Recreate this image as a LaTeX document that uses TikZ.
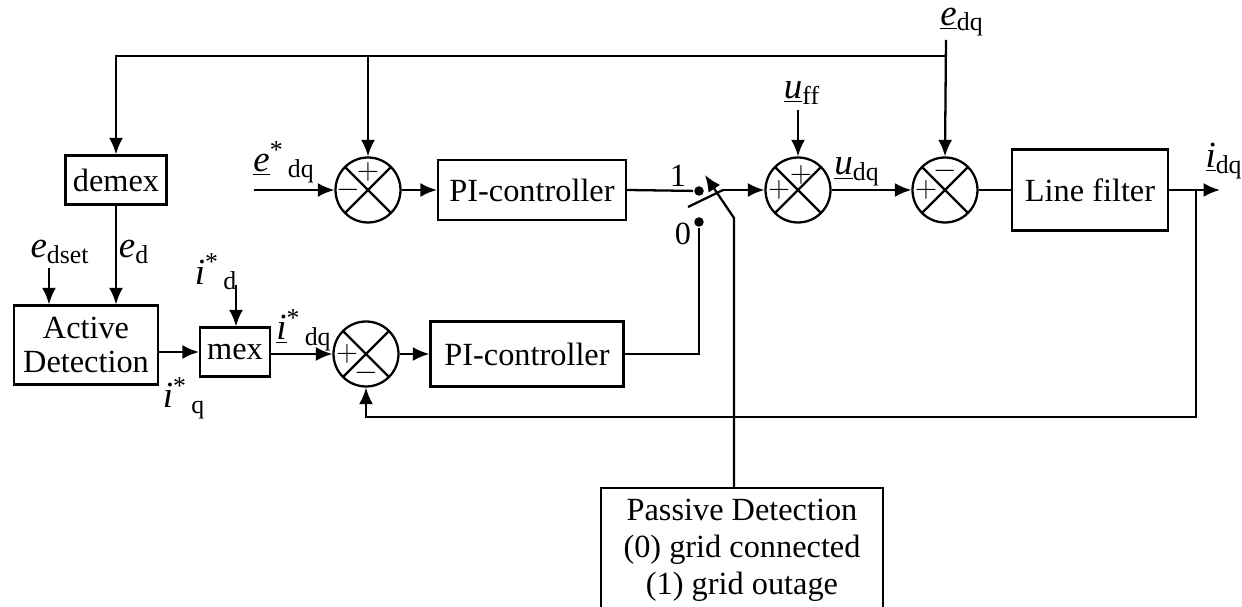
\documentclass[tikz,border=0pt]{standalone}
\usepackage{fontspec}
\setmainfont{Liberation Serif}
\usetikzlibrary{arrows.meta}
\newcommand{\vsig}[2]{\underline{\textit{#1}}\textsubscript{#2}}
\newcommand{\vref}[2]{\textit{#1}\textsuperscript{*}\textsubscript{\,#2}}
\newcommand{\vrefu}[2]{\underline{\textit{#1}}\textsuperscript{*}\textsubscript{\,#2}}

\begin{document}
\begin{tikzpicture}[
  x=0.02cm, y=-0.02cm, line width=1.3pt,
  font=\fontsize{18.4}{21}\selectfont,
  blk/.style={draw,rectangle,align=center,inner sep=2pt},
  sumj/.style={draw,circle,minimum size=1.3cm,inner sep=0pt,
    path picture={\draw (path picture bounding box.north west) -- (path picture bounding box.south east)
      (path picture bounding box.south west) -- (path picture bounding box.north east);}},
  sgn/.style={font=\fontsize{17}{17}\selectfont,inner sep=0pt},
  dot/.style={circle,fill,inner sep=0pt,minimum size=1.9mm},
  arr/.style={-{Latex[length=3.3mm,width=2.8mm]}},
  lbl/.style={inner sep=1pt,font=\fontsize{21}{22}\selectfont},
  num/.style={inner sep=1pt},
]
\useasboundingbox (0,0) rectangle (1242,607);

% --- left: detection chain ------------------------------------------------
\node[blk,minimum width=2.02cm,minimum height=0.98cm] (demex)  at (116,180) {demex};
\node[blk,minimum width=2.88cm,minimum height=1.58cm] (actdet) at (86,345) {Active\\[-2pt]Detection};
\node[blk,minimum width=1.4cm,minimum height=0.98cm]  (mex)    at (235,352) {mex};

% --- junctions -------------------------------------------------------------
\node[sumj] (sume)  at (368,190) {};
\node[sumj] (sumi)  at (366,354) {};
\node[sumj] (sumff) at (798,190) {};
\node[sumj] (sumg)  at (945,190) {};
\node[sgn] at ([yshift=0.36cm]sume.center)   {$+$};
\node[sgn] at ([xshift=-0.4cm]sume.center)   {$-$};
\node[sgn] at ([xshift=-0.38cm]sumi.center)  {$+$};
\node[sgn] at ([yshift=-0.38cm]sumi.center)  {$-$};
\node[sgn] at ([xshift=-0.38cm]sumff.center) {$+$};
\node[sgn] at ([yshift=0.3cm,xshift=0.06cm]sumff.center) {$+$};
\node[sgn] at ([yshift=0.38cm]sumg.center)   {$-$};
\node[sgn] at ([xshift=-0.38cm]sumg.center)  {$+$};

% --- controllers, plant, supervisor ----------------------------------------
\node[blk,minimum width=3.76cm,minimum height=1.2cm]  (piu)   at (532,190) {PI-controller};
\node[blk,minimum width=3.86cm,minimum height=1.3cm]  (pii)   at (527,354) {PI-controller};
\node[blk,minimum width=3.12cm,minimum height=1.62cm] (lfilt) at (1090,190) {Line filter};
\node[blk,minimum width=5.64cm,minimum height=2.48cm] (pasdet) at (742,550)
     {Passive Detection\\(0) grid connected\\(1) grid outage};

% --- switch ------------------------------------------------------------------
\node[dot] (sw1) at (699,191) {};
\node[dot] (sw0) at (699,222) {};
\coordinate (bladea) at (688,207);
\coordinate (bladeb) at (723,190);
\coordinate (ctl)    at (734,218);
\coordinate (ctltip) at (705,175);
\node[num] (one)  at (678,176) {1};
\node[num] (zero) at (683,234) {0};

% --- free ends ---------------------------------------------------------------
\coordinate (edq)   at (946,40);
\coordinate (top)   at (946,56);
\coordinate (estin) at (254,190);
\coordinate (edset) at (49,268);
\coordinate (idst)  at (236,285);
\coordinate (uff)   at (798,110);
\coordinate (out)   at (1220,190);
\coordinate (fb)    at (1196,190);
\coordinate (fbb)   at (1196,417);

% --- labels ------------------------------------------------------------------
\node[lbl] (ledq)   at (962,22)  {\vsig{e}{dq}};
\node[lbl] (lest)   at (284,162) {\vrefu{e}{dq}};
\node[lbl] (luff)   at (802,93)  {\vsig{u}{ff}};
\node[lbl] (ludq)   at (857,172) {\vsig{u}{dq}};
\node[lbl] (lidq)   at (1224,161) {\vsig{i}{dq}};
\node[lbl] (ledset) at (60,252)  {\textit{e}\textsubscript{dset}};
\node[lbl] (led)    at (134,252) {\textit{e}\textsubscript{d}};
\node[lbl] (lid)    at (216,272) {\vref{i}{d}};
\node[lbl] (liq)    at (184,398) {\vref{i}{q}};
\node[lbl] (lidqs)  at (304,330) {\vrefu{i}{dq}};

% --- grid voltage feed ---------------------------------------------------------
\draw[arr] (edq) -- (sumg.north);
\draw[arr] (top) -| (demex.north);
\draw[arr] (top -| sume) -- (sume.north);

% --- upper path ----------------------------------------------------------------
\draw[arr] (estin) -- (sume.west);
\draw[arr] (sume.east) -- (piu.west);
\draw (piu.east) -- (sw1);
\draw (bladea) -- (bladeb);
\draw[arr] (bladeb) -- (sumff.west);
\draw[arr] (uff) -- (sumff.north);
\draw[arr] (sumff.east) -- (sumg.west);
\draw (sumg.east) -- (lfilt.west);
\draw[arr] (lfilt.east |- out) -- (out);

% --- lower path ----------------------------------------------------------------
\draw[arr] (demex.south) -- (demex.south |- actdet.north);
\draw[arr] (edset) -- (edset |- actdet.north);
\draw[arr] (actdet.east |- mex) -- (mex.west);
\draw[arr] (idst) -- (idst |- mex.north);
\draw[arr] (mex.east |- sumi) -- (sumi.west);
\draw[arr] (sumi.east) -- (pii.west);
\draw (pii.east) -| (sw0.south);

% --- current feedback and switch command ----------------------------------------
\draw[arr] (fb) -- (fbb) -| (sumi.south);
\draw[arr] (pasdet.north -| ctl) -- (ctl) -- (ctltip);
\end{tikzpicture}
\end{document}
